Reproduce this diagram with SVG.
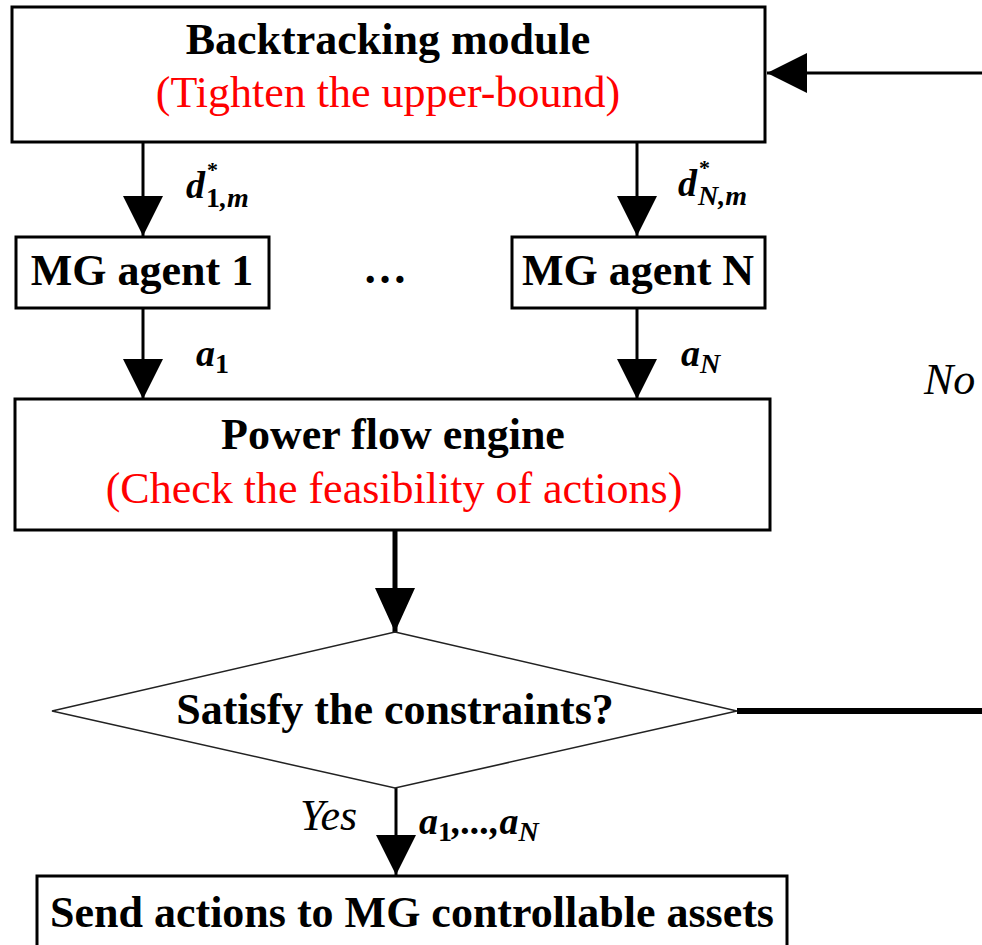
<svg xmlns="http://www.w3.org/2000/svg" width="982" height="945" viewBox="0 0 982 945">
  <style>
    .box { fill: #ffffff; stroke: #000000; stroke-width: 3; }
    .diamond { fill: #ffffff; stroke: #222222; stroke-width: 1.5; }
    .title { font-family: "Liberation Serif", "Times New Roman", serif; font-weight: bold; font-size: 44px; fill: #000000; text-anchor: middle; }
    .note { font-family: "Liberation Serif", "Times New Roman", serif; font-size: 44px; fill: #ff0000; text-anchor: middle; }
    .math { font-family: "Liberation Serif", "Times New Roman", serif; font-weight: bold; font-style: italic; font-size: 38px; fill: #000000; }
    .sub { font-size: 28px; }
    .up { font-style: normal; }
    .star { font-family: "Liberation Serif", "Times New Roman", serif; font-weight: bold; font-size: 22px; fill: #000000; }
    .branch { font-family: "Liberation Serif", "Times New Roman", serif; font-style: italic; font-size: 44px; fill: #000000; }
    .link { stroke: #000000; fill: none; }
  </style>
  <defs>
    <marker id="head" markerUnits="userSpaceOnUse" markerWidth="40" markerHeight="40" refX="40" refY="20" orient="auto">
      <path d="M0,0 L40,20 L0,40 Z" fill="#000000"/>
    </marker>
    <marker id="headLong" markerUnits="userSpaceOnUse" markerWidth="44" markerHeight="40" refX="44" refY="20" orient="auto">
      <path d="M0,0 L44,20 L0,40 Z" fill="#000000"/>
    </marker>
  </defs>

  <rect width="982" height="945" fill="#ffffff"/>

  <!-- connectors -->
  <g id="connectors">
    <line class="link" x1="143" y1="143" x2="143" y2="236" stroke-width="3" marker-end="url(#head)"/>
    <line class="link" x1="637" y1="143" x2="637" y2="236" stroke-width="3" marker-end="url(#head)"/>
    <line class="link" x1="143" y1="309" x2="143" y2="399" stroke-width="3" marker-end="url(#head)"/>
    <line class="link" x1="637" y1="309" x2="637" y2="399" stroke-width="3" marker-end="url(#head)"/>
    <line class="link" x1="395" y1="530" x2="395" y2="632" stroke-width="5" marker-end="url(#headLong)"/>
    <line class="link" x1="396" y1="788" x2="396" y2="875" stroke-width="3" marker-end="url(#head)"/>
    <!-- "No" loop back to the backtracking module -->
    <line class="link" x1="737" y1="711" x2="982" y2="711" stroke-width="6"/>
    <line class="link" x1="982" y1="73" x2="767" y2="73" stroke-width="3" marker-end="url(#head)"/>

    <!-- connector labels -->
    <text class="math" x="186" y="198">d</text>
    <text class="star" x="207" y="177">*</text>
    <text class="math sub" x="206" y="207"><tspan class="up">1</tspan>,m</text>

    <text class="math" x="678" y="196">d</text>
    <text class="star" x="699" y="175">*</text>
    <text class="math sub" x="698" y="205">N,m</text>

    <text class="math" x="196" y="366">a<tspan class="sub up" dy="7">1</tspan></text>
    <text class="math" x="681" y="366">a<tspan class="sub" dy="7">N</tspan></text>
    <text class="math" x="419" y="834">a<tspan class="sub up" dy="7">1</tspan><tspan dy="-7">,...,a</tspan><tspan class="sub" dy="7">N</tspan></text>
    <text class="branch" x="300" y="830">Yes</text>
    <text class="branch" x="924" y="394">No</text>
  </g>

  <g id="backtracking">
    <rect class="box" x="12" y="7" width="753" height="135"/>
    <text class="title" x="388" y="54">Backtracking module</text>
    <text class="note" x="388" y="107">(Tighten the upper-bound)</text>
  </g>

  <g id="agent-1">
    <rect class="box" x="16" y="237" width="253" height="71"/>
    <text class="title" x="142" y="285">MG agent 1</text>
  </g>

  <g id="agent-ellipsis">
    <text class="title" x="385" y="283">…</text>
  </g>

  <g id="agent-n">
    <rect class="box" x="512" y="237" width="253" height="71"/>
    <text class="title" x="638" y="285">MG agent N</text>
  </g>

  <g id="power-flow">
    <rect class="box" x="15" y="399" width="755" height="131"/>
    <text class="title" x="393" y="449">Power flow engine</text>
    <text class="note" x="394" y="503">(Check the feasibility of actions)</text>
  </g>

  <g id="constraint-check">
    <polygon class="diamond" points="395,632 737,711 395,788 52,711"/>
    <text class="title" x="395" y="724">Satisfy the constraints?</text>
  </g>

  <g id="send-actions">
    <rect class="box" x="37" y="876" width="750" height="72"/>
    <text class="title" x="412" y="927">Send actions to MG controllable assets</text>
  </g>
</svg>
